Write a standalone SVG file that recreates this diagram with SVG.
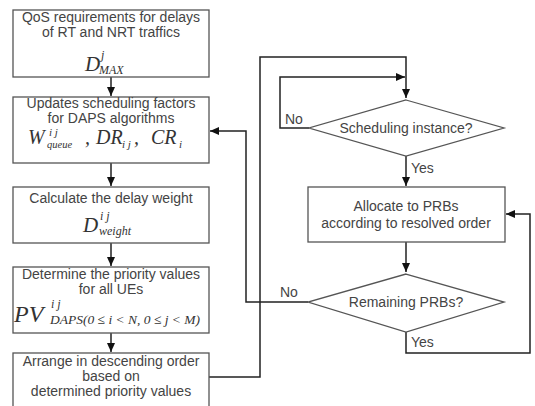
<svg xmlns="http://www.w3.org/2000/svg" width="535" height="406" viewBox="0 0 535 406">
<style>
.box{fill:#fff;stroke:#555;stroke-width:1.3}
.t{font-family:"Liberation Sans",Arial,sans-serif;font-size:14px;fill:#444;text-anchor:middle}
.lbl{font-family:"Liberation Sans",Arial,sans-serif;font-size:14px;fill:#444}
.m{font-family:"Liberation Serif","Times New Roman",serif;font-style:italic;fill:#333}
.ln{fill:none;stroke:#222;stroke-width:1.5}
</style>
<defs>
<marker id="ah" markerWidth="10" markerHeight="10" refX="9" refY="5" orient="auto" markerUnits="userSpaceOnUse">
<path d="M0,1 L9,5 L0,9 Z" fill="#111"/>
</marker>
</defs>
<rect width="535" height="406" fill="#fff"/>
<g id="connectors">
<line class="ln" x1="111" y1="77" x2="111" y2="96" marker-end="url(#ah)"/>
<line class="ln" x1="111" y1="163" x2="111" y2="186" marker-end="url(#ah)"/>
<line class="ln" x1="111" y1="243" x2="111" y2="266" marker-end="url(#ah)"/>
<line class="ln" x1="111" y1="333" x2="111" y2="352" marker-end="url(#ah)"/>
<polyline class="ln" points="209,377 260,377 260,57 406,57 406,98" marker-end="url(#ah)"/>
<polyline class="ln" points="309,128 280,128 280,77 405,77" marker-end="url(#ah)"/>
<line class="ln" x1="406" y1="156" x2="406" y2="186" marker-end="url(#ah)"/>
<line class="ln" x1="406" y1="242" x2="406" y2="272" marker-end="url(#ah)"/>
<polyline class="ln" points="308,302 246,302 246,131 210,131" marker-end="url(#ah)"/>
<polyline class="ln" points="406,332 406,353 530,353 530,214 506,214" marker-end="url(#ah)"/>
<text class="lbl" x="285" y="124">No</text>
<text class="lbl" x="411" y="173">Yes</text>
<text class="lbl" x="280" y="297">No</text>
<text class="lbl" x="411" y="347">Yes</text>
</g>
<g id="n1">
<rect class="box" x="13" y="10" width="196" height="67"/>
<text class="t" x="111" y="22">QoS requirements for delays</text>
<text class="t" x="111" y="37">of RT and NRT traffics</text>
<text class="m" x="85" y="71" font-size="21">D</text>
<text class="m" x="101" y="59" font-size="12">j</text>
<text class="m" x="99" y="74" font-size="12">MAX</text>
</g>
<g id="n2">
<rect class="box" x="13" y="97" width="196" height="66"/>
<text class="t" x="111" y="108">Updates scheduling factors</text>
<text class="t" x="111" y="123">for DAPS algorithms</text>
<text class="m" font-size="20"><tspan x="28" y="144">W</tspan><tspan x="85" y="144">,</tspan><tspan x="96" y="144">DR</tspan><tspan x="134" y="144">,</tspan><tspan x="151" y="144">CR</tspan></text>
<text class="m" font-size="11"><tspan x="49" y="136">i j</tspan><tspan x="122" y="148">i j</tspan><tspan x="179" y="148">i</tspan></text>
<text class="m" x="47" y="148" font-size="10.5">queue</text>
</g>
<g id="n3">
<rect class="box" x="13" y="187" width="196" height="56"/>
<text class="t" x="111" y="203">Calculate the delay weight</text>
<text class="m" x="83" y="232" font-size="21">D</text>
<text class="m" x="100" y="220" font-size="12">i j</text>
<text class="m" x="99" y="235" font-size="12">weight</text>
</g>
<g id="n4">
<rect class="box" x="13" y="267" width="196" height="66"/>
<text class="t" x="111" y="279">Determine the priority values</text>
<text class="t" x="111" y="294">for all UEs</text>
<text class="m" x="14" y="322" font-size="24">PV</text>
<text class="m" x="51" y="308" font-size="12">i j</text>
<text class="m" x="50" y="324" font-size="13.5">DAPS(0 ≤ i &lt; N, 0 ≤ j &lt; M)</text>
</g>
<g id="n5">
<rect class="box" x="13" y="353" width="196" height="60"/>
<text class="t" x="111" y="366">Arrange in descending order</text>
<text class="t" x="111" y="381">based on</text>
<text class="t" x="111" y="396">determined priority values</text>
</g>
<g id="n6">
<polygon class="box" points="406,100 504,128 406,156 309,128"/>
<text class="t" x="406" y="133">Scheduling instance?</text>
</g>
<g id="n7">
<rect class="box" x="308" y="187" width="197" height="55"/>
<text class="t" x="406" y="211">Allocate to PRBs</text>
<text class="t" x="406" y="228">according to resolved order</text>
</g>
<g id="n8">
<polygon class="box" points="406,274 504,302 406,332 308,302"/>
<text class="t" x="406" y="307">Remaining PRBs?</text>
</g>
</svg>
